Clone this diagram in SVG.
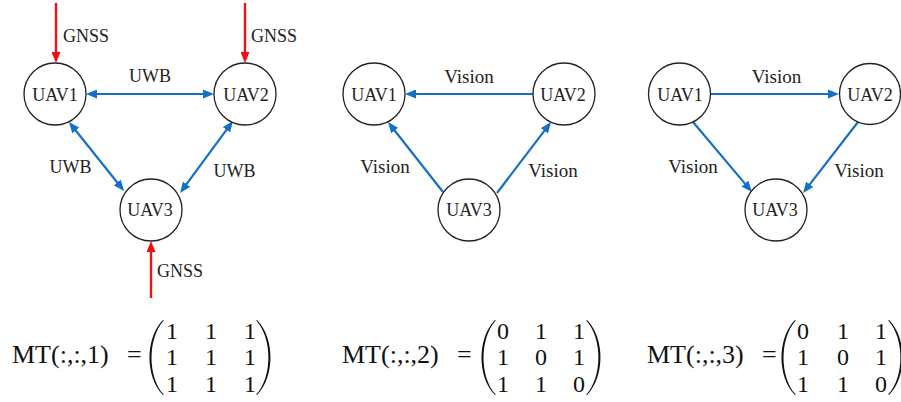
<svg xmlns="http://www.w3.org/2000/svg" xmlns:xlink="http://www.w3.org/1999/xlink" width="901" height="402" viewBox="0 0 901 402">
<style>
.node{fill:#fff;stroke:#222;stroke-width:1.3}
text{font-family:'Liberation Serif','DejaVu Serif',serif}
.lbl{font-size:18px;fill:#222}
.vis{font-size:19px}
.mid{text-anchor:middle}
.blue{stroke:#1470c4;stroke-width:2.2;fill:none}
.red{stroke:#f01010;stroke-width:2.4;fill:none}
.math{fill:#111}
.mt{font-size:26px}
.dig{font-size:24px;text-anchor:middle}
.par{fill:#111}
</style>
<defs>
<marker id="ab" markerUnits="userSpaceOnUse" markerWidth="11" markerHeight="9" refX="5" refY="4.5" orient="auto-start-reverse"><path d="M0,0 L11,4.5 L0,9 Z" fill="#1470c4"/></marker>
<marker id="ar" markerUnits="userSpaceOnUse" markerWidth="11" markerHeight="9" refX="5" refY="4.5" orient="auto"><path d="M0,0 L11,4.5 L0,9 Z" fill="#f01010"/></marker>
<path id="lp" d="M0,0 C-18,18 -18,57 0,75 L0.8,74.6 C-15.5,57 -15.5,18 0.8,0.4 Z"/>
<path id="rp" d="M0,0 C18,18 18,57 0,75 L-0.8,74.6 C15.5,57 15.5,18 -0.8,0.4 Z"/>
</defs>

<g id="connectors">
<line class="red" x1="56" y1="3" x2="56" y2="57" marker-end="url(#ar)"/>
<line class="red" x1="245" y1="3" x2="245" y2="57" marker-end="url(#ar)"/>
<line class="red" x1="151" y1="298" x2="151" y2="247" marker-end="url(#ar)"/>
<line class="blue" x1="92" y1="94" x2="208" y2="94" marker-start="url(#ab)" marker-end="url(#ab)"/>
<line class="blue" x1="72.7" y1="126.7" x2="120.3" y2="186.3" marker-start="url(#ab)" marker-end="url(#ab)"/>
<line class="blue" x1="229.4" y1="125.8" x2="183.6" y2="188.2" marker-start="url(#ab)" marker-end="url(#ab)"/>
<line class="blue" x1="533" y1="94" x2="411" y2="94" marker-end="url(#ab)"/>
<line class="blue" x1="443" y1="192" x2="391.7" y2="126.7" marker-end="url(#ab)"/>
<line class="blue" x1="497" y1="193" x2="547.4" y2="126.8" marker-end="url(#ab)"/>
<line class="blue" x1="710.5" y1="94" x2="833" y2="94" marker-end="url(#ab)"/>
<line class="blue" x1="693" y1="122" x2="748.1" y2="187.4" marker-end="url(#ab)"/>
<line class="blue" x1="858" y1="122" x2="806.7" y2="188.3" marker-end="url(#ab)"/>
</g>

<g id="edge-labels">
<text class="lbl" x="63" y="42">GNSS</text>
<text class="lbl" x="251" y="42">GNSS</text>
<text class="lbl" x="157" y="277">GNSS</text>
<text class="lbl mid" x="150" y="82">UWB</text>
<text class="lbl mid" x="70.5" y="173">UWB</text>
<text class="lbl mid" x="234.5" y="177">UWB</text>
<text class="lbl vis mid" x="469" y="83">Vision</text>
<text class="lbl vis mid" x="385" y="173">Vision</text>
<text class="lbl vis mid" x="553" y="177">Vision</text>
<text class="lbl vis mid" x="776.5" y="83">Vision</text>
<text class="lbl vis mid" x="693" y="173">Vision</text>
<text class="lbl vis mid" x="859" y="177">Vision</text>
</g>

<g id="p1-uav1"><circle class="node" cx="55" cy="94" r="31"/><text class="lbl mid" x="55" y="101">UAV1</text></g>
<g id="p1-uav2"><circle class="node" cx="245" cy="94" r="31"/><text class="lbl mid" x="246" y="101">UAV2</text></g>
<g id="p1-uav3"><circle class="node" cx="151" cy="210" r="31"/><text class="lbl mid" x="150" y="216">UAV3</text></g>

<g id="p2-uav1"><circle class="node" cx="374" cy="94" r="31"/><text class="lbl mid" x="374" y="101">UAV1</text></g>
<g id="p2-uav2"><circle class="node" cx="564" cy="94" r="31"/><text class="lbl mid" x="563" y="101">UAV2</text></g>
<g id="p2-uav3"><circle class="node" cx="469" cy="210" r="31"/><text class="lbl mid" x="469" y="216">UAV3</text></g>

<g id="p3-uav1"><circle class="node" cx="679.5" cy="94" r="31"/><text class="lbl mid" x="680" y="101">UAV1</text></g>
<g id="p3-uav2"><circle class="node" cx="870" cy="94" r="30.5"/><text class="lbl mid" x="870" y="101">UAV2</text></g>
<g id="p3-uav3"><circle class="node" cx="776" cy="210" r="31"/><text class="lbl mid" x="775" y="216">UAV3</text></g>

<g id="matrix1" class="math">
<text class="mt" x="12" y="363">MT(:,:,1)<tspan x="127">=</tspan></text>
<use xlink:href="#lp" x="163" y="320" class="par"/>
<use xlink:href="#rp" x="257" y="320" class="par"/>
<text class="dig" x="172" y="339">1</text><text class="dig" x="211" y="339">1</text><text class="dig" x="250" y="339">1</text>
<text class="dig" x="172" y="365">1</text><text class="dig" x="211" y="365">1</text><text class="dig" x="250" y="365">1</text>
<text class="dig" x="172" y="392">1</text><text class="dig" x="211" y="392">1</text><text class="dig" x="250" y="392">1</text>
</g>

<g id="matrix2" class="math">
<text class="mt" x="342" y="363">MT(:,:,2)<tspan x="457">=</tspan></text>
<use xlink:href="#lp" x="495" y="320" class="par"/>
<use xlink:href="#rp" x="587" y="320" class="par"/>
<text class="dig" x="503" y="339">0</text><text class="dig" x="541" y="339">1</text><text class="dig" x="579" y="339">1</text>
<text class="dig" x="503" y="365">1</text><text class="dig" x="541" y="365">0</text><text class="dig" x="579" y="365">1</text>
<text class="dig" x="503" y="392">1</text><text class="dig" x="541" y="392">1</text><text class="dig" x="579" y="392">0</text>
</g>

<g id="matrix3" class="math">
<text class="mt" x="647" y="363">MT(:,:,3)<tspan x="762">=</tspan></text>
<use xlink:href="#lp" x="795" y="320" class="par"/>
<use xlink:href="#rp" x="889" y="320" class="par"/>
<text class="dig" x="803" y="339">0</text><text class="dig" x="843" y="339">1</text><text class="dig" x="881" y="339">1</text>
<text class="dig" x="803" y="365">1</text><text class="dig" x="843" y="365">0</text><text class="dig" x="881" y="365">1</text>
<text class="dig" x="803" y="392">1</text><text class="dig" x="843" y="392">1</text><text class="dig" x="881" y="392">0</text>
</g>
</svg>
